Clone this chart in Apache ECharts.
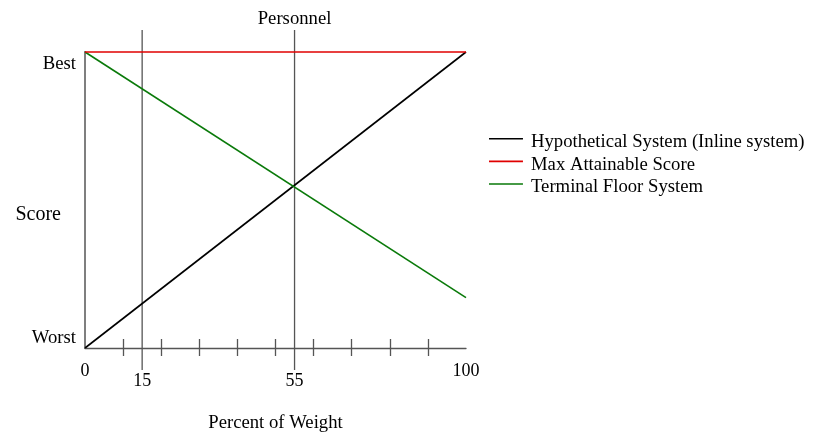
<!DOCTYPE html>
<html>
<head>
<meta charset="utf-8">
<script src="https://cdn.jsdelivr.net/npm/echarts@6/dist/echarts.min.js"></script>
<style>
  html, body { margin: 0; padding: 0; background: #fff; }
  #chart { width: 814px; height: 433px; }
</style>
</head>
<body>
<div id="chart"></div>
<script>
// Percent of weight given to the personnel criterion vs. resulting score
const seriesNames = ['Hypothetical System (Inline system)', 'Max Attainable Score', 'Terminal Floor System'];
const hypothetical = [[0, 0], [100, 100]];
const maxScore = [[0, 100], [100, 100]];
const terminalFloor = [[0, 100], [100, 17]];

// Reference weights marked with vertical lines, and their vertical extent (score units)
const refWeights = [15, 55];
const refSpan = [-7.4, 107.4];
const refTitle = 'Personnel';

// Axis ticks and labels
const xTicks = [10, 20, 30, 40, 50, 60, 70, 80, 90];
const xLabelsEnds = [0, 100];
const xLabelsRefs = [15, 55];
const yLabelNames = ['Worst', 'Best'];
const yLabelAt = [3.5, 96];

const FONT = 'Liberation Serif, Times New Roman, serif';
// Legend swatch: a thin bar sitting near the top of its box, so it lines up with the cap height
const LEGEND_ICON = 'path://M0,0H34V1.6H0ZM0,8H0.01V8.01H0Z';

const chart = echarts.init(document.getElementById('chart'), null, { renderer: 'canvas' });

const refSeries = refWeights.map(w => ({
  type: 'line',
  xAxisIndex: 0,
  yAxisIndex: 0,
  data: refSpan.map(v => [w, v]),
  symbol: 'none',
  clip: false,
  silent: true,
  lineStyle: { color: '#555', width: 1.3 },
  z: 1
}));

chart.setOption({
  animation: false,
  backgroundColor: '#fff',
  textStyle: { fontFamily: FONT },
  grid: { left: 85, right: 348, top: 52, bottom: 85, containLabel: false, outerBoundsMode: 'none' },
  legend: {
    data: seriesNames,
    orient: 'vertical',
    left: 489,
    top: 132,
    padding: 0,
    icon: LEGEND_ICON,
    itemWidth: 34,
    itemHeight: 8,
    itemGap: 2.6,
    textStyle: { fontFamily: FONT, fontSize: 18.7, color: '#000', lineHeight: 20, padding: [0, 0, 0, 3] },
    selectedMode: false
  },
  xAxis: [
    {
      type: 'value', position: 'bottom', min: 0, max: 100,
      name: 'Percent of Weight', nameLocation: 'middle', nameGap: 66, nameMoveOverlap: false,
      nameTextStyle: { fontFamily: FONT, fontSize: 18.7, color: '#000' },
      axisLine: { show: true, lineStyle: { color: '#555', width: 1.3 } },
      axisTick: { show: true, inside: false, length: 8, customValues: xTicks, lineStyle: { color: '#555', width: 1.3 } },
      axisLabel: { customValues: xLabelsEnds, margin: 14, fontFamily: FONT, fontSize: 18, color: '#000' },
      splitLine: { show: false }
    },
    {
      type: 'value', position: 'bottom', min: 0, max: 100,
      axisLine: { show: false },
      axisTick: { show: true, inside: true, length: 9, customValues: xTicks, lineStyle: { color: '#555', width: 1.3 } },
      axisLabel: { customValues: xLabelsRefs, margin: 24, fontFamily: FONT, fontSize: 18, color: '#000' },
      splitLine: { show: false }
    },
    {
      type: 'value', position: 'top', min: 0, max: 100,
      axisLine: { show: false },
      axisTick: { show: false },
      axisLabel: { customValues: [refWeights[1]], formatter: () => refTitle, margin: 23, fontFamily: FONT, fontSize: 18.7, color: '#000' },
      splitLine: { show: false }
    }
  ],
  yAxis: [
    {
      type: 'value', position: 'left', min: 0, max: 100,
      name: 'Score', nameLocation: 'middle', nameGap: 24, nameRotate: 0, nameMoveOverlap: false,
      nameTextStyle: { fontFamily: FONT, fontSize: 20, color: '#000', verticalAlign: 'top', padding: [5, 0, 0, 0] },
      axisLine: { show: true, lineStyle: { color: '#7f7f7f', width: 2 } },
      axisTick: { show: false },
      axisLabel: {
        customValues: yLabelAt, margin: 9, fontFamily: FONT, fontSize: 18.7, color: '#000',
        formatter: v => yLabelNames[yLabelAt.indexOf(v)]
      },
      splitLine: { show: false }
    },
    {
      type: 'value', position: 'right', min: 0, max: 100,
      axisLine: { show: true, lineStyle: { color: '#7f7f7f', width: 2 } },
      axisTick: { show: false },
      axisLabel: { show: false },
      splitLine: { show: false }
    }
  ],
  series: [
    ...refSeries,
    {
      name: seriesNames[0], type: 'line', xAxisIndex: 0, yAxisIndex: 0,
      data: hypothetical, symbol: 'none', lineStyle: { color: '#000', width: 1.6 }, itemStyle: { color: '#000' }, z: 3
    },
    {
      name: seriesNames[1], type: 'line', xAxisIndex: 0, yAxisIndex: 0,
      data: maxScore, symbol: 'none', clip: false, lineStyle: { color: '#e00000', width: 1.6 }, itemStyle: { color: '#e00000' }, z: 4
    },
    {
      name: seriesNames[2], type: 'line', xAxisIndex: 0, yAxisIndex: 0,
      data: terminalFloor, symbol: 'none', lineStyle: { color: '#0a7a0a', width: 1.6 }, itemStyle: { color: '#0a7a0a' }, z: 3
    }
  ]
});
</script>
</body>
</html>
